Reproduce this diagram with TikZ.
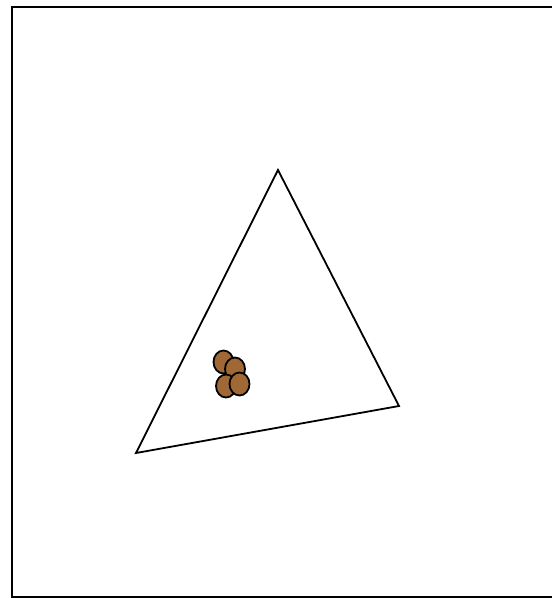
\documentclass[tikz,border=0pt]{standalone}
\definecolor{seed}{RGB}{160,104,52}
\begin{document}
\begin{tikzpicture}[x=1pt,y=-1pt,
  frame/.style={draw=black,line width=2pt},
  tri/.style={draw=black,line width=1.8pt,line join=miter},
  bead/.style={draw=black,fill=seed,line width=1.8pt}]
\useasboundingbox (0,0) rectangle (552,598);
\draw[frame] (12,7) rectangle (570,597);
\coordinate (A) at (278,170);
\coordinate (B) at (399,406);
\coordinate (C) at (136,453);
\draw[tri] (A) -- (B) -- (C) -- cycle;
\draw[bead] (223.5,362) ellipse [x radius=10, y radius=11.5];
\draw[bead] (235,369) ellipse [x radius=10, y radius=11.5];
\draw[bead] (226,386) ellipse [x radius=10, y radius=11.5];
\draw[bead] (239.5,384) ellipse [x radius=10, y radius=11.5];
\end{tikzpicture}
\end{document}
